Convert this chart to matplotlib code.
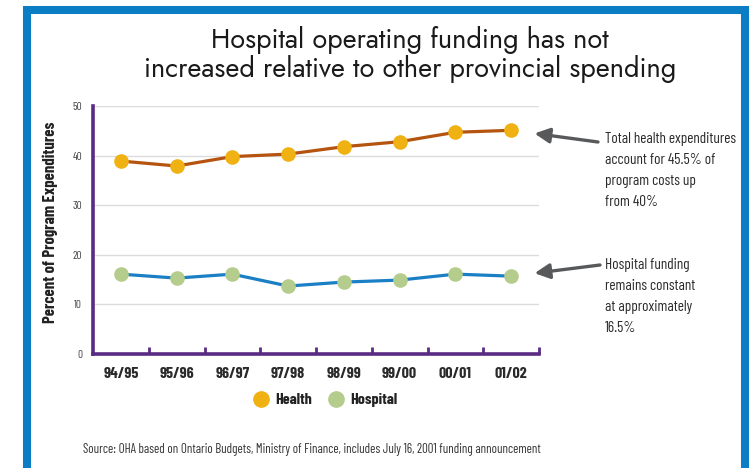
import matplotlib
matplotlib.use("Agg")
import matplotlib.pyplot as plt
from matplotlib.patches import Rectangle

plt.rcParams['font.family'] = ['Barlow Condensed', 'DejaVu Sans']

years = ["94/95", "95/96", "96/97", "97/98", "98/99", "99/00", "00/01", "01/02"]
health = [38.9, 37.9, 39.8, 40.3, 41.8, 42.8, 44.7, 45.1]
hospital = [16.1, 15.3, 16.1, 13.7, 14.5, 14.9, 16.1, 15.7]
y_ticks = [0, 10, 20, 30, 40, 50]

title_lines = ["Hospital operating funding has not",
               "increased relative to other provincial spending"]
health_note = "Total health expenditures\naccount for 45.5% of\nprogram costs up\nfrom 40%"
hospital_note = "Hospital funding\nremains constant\nat approximately\n16.5%"
source = ("Source: OHA based on Ontario Budgets, Ministry of Finance, "
          "includes July 16, 2001 funding announcement")

W, H = 755, 468
purple = "#5b2a82"
frame_blue = "#0b7dc5"

fig = plt.figure(figsize=(W / 100, H / 100), dpi=100)
fig.patch.set_facecolor("white")

# blue frame, open at the bottom
fig.patches.append(Rectangle((27 / W, -0.1), (745 - 27) / W, 1.1 - 10 / H,
                             transform=fig.transFigure, fill=False,
                             edgecolor=frame_blue, linewidth=5.8,
                             clip_on=False))

ax = fig.add_axes([93 / W, 1 - 354 / H, (539 - 93) / W, (354 - 106) / H])
x = list(range(len(years)))

ax.plot(x, health, color="#b5540f", linewidth=2.3, marker="o",
        markersize=9.5, markerfacecolor="#f0b112", markeredgecolor="#f0b112",
        label="Health", zorder=3)
ax.plot(x, hospital, color="#1b7fc6", linewidth=2.3, marker="o",
        markersize=9.5, markerfacecolor="#b4cc8c", markeredgecolor="#b4cc8c",
        label="Hospital", zorder=3)

ax.set_xlim(-0.5, len(years) - 0.5)
ax.set_ylim(0, 50)
ax.set_yticks(y_ticks)
ax.set_yticklabels([str(v) for v in y_ticks], fontsize=8, color="#444444")
ax.tick_params(axis="y", length=0, pad=8)
ax.set_xticks(x)
ax.set_xticklabels(years, fontsize=11.5, fontweight="bold", color="#2a2a2a")
ax.tick_params(axis="x", which="major", length=0, pad=9)
ax.set_xticks([i + 0.5 for i in x], minor=True)
ax.tick_params(axis="x", which="minor", direction="in", length=5,
               width=2, color=purple)

ax.yaxis.grid(True, color="#dcdcdc", linewidth=1)
ax.set_axisbelow(True)
for side in ["top", "right"]:
    ax.spines[side].set_visible(False)
for side in ["left", "bottom"]:
    ax.spines[side].set_color(purple)
    ax.spines[side].set_linewidth(2.6)

ax.set_ylabel("Percent of Program Expenditures", fontsize=12,
              fontweight="bold", color="#222222")
ax.yaxis.set_label_coords(-0.078, 0.53)

leg = ax.legend(loc="upper center", bbox_to_anchor=(0.52, -0.1), ncol=2,
                frameon=False, handlelength=1.0, handletextpad=0.4,
                columnspacing=1.0, prop={"size": 11.5, "weight": "bold"})
for line in leg.get_lines():
    line.set_linestyle("none")
    line.set_markersize(11)
for t in leg.get_texts():
    t.set_color("#222222")

# two-line heading, placed on baselines
for i, line in enumerate(title_lines):
    fig.text(410 / W, 1 - (48 + 29 * i) / H, line, ha="center",
             va="baseline", fontsize=19.5, fontweight="medium",
             family=["Jost", "Lato"], color="#1a1a1a")

arrow = dict(arrowstyle="-|>,head_length=0.9,head_width=0.45",
             color="#58595b", linewidth=2.4, shrinkA=0, shrinkB=17)
ax.annotate("", xy=(x[-1], health[-1]), xytext=(598, H - 142),
            textcoords="figure pixels", arrowprops=arrow)
ax.annotate("", xy=(x[-1], hospital[-1]), xytext=(600, H - 265),
            textcoords="figure pixels", arrowprops=arrow)

fig.text(605 / W, 1 - 132 / H, health_note, ha="left", va="top",
         fontsize=11, color="#2a2a2a", linespacing=1.65)
fig.text(605 / W, 1 - 258 / H, hospital_note, ha="left", va="top",
         fontsize=11, color="#2a2a2a", linespacing=1.65)

fig.text(83 / W, 1 - 449 / H, source, ha="left", va="center",
         fontsize=9.3, color="#333333")

fig.savefig("out.png", dpi=100)
